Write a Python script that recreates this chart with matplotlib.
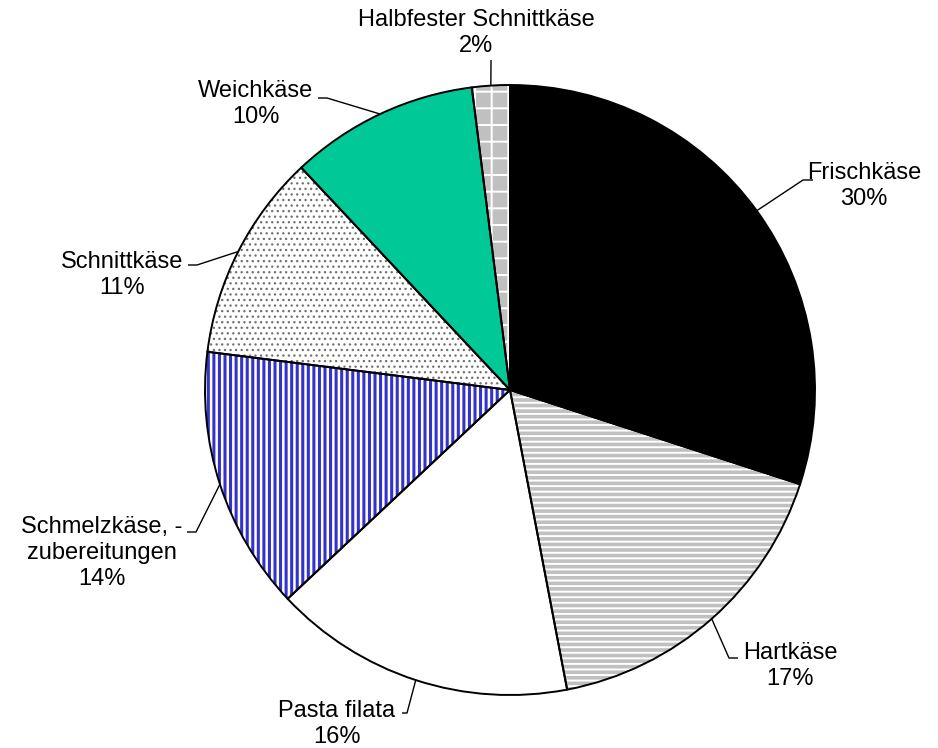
import numpy as np
import matplotlib.pyplot as plt

plt.rcParams['font.family'] = ['Liberation Sans', 'DejaVu Sans']

# Anteile der Käsesorten (%)
sorten = ["Frischkäse", "Hartkäse", "Pasta filata", "Schmelzkäse, -\nzubereitungen",
          "Schnittkäse", "Weichkäse", "Halbfester Schnittkäse"]
anteile = [30, 17, 16, 14, 11, 10, 2]

# Füllung: Grundfarbe, Schraffur, Farbe der Schraffur, Linienstärke
fuellung = [
    ("#000000", None, "#000000", 1.0),
    ("#c0c0c0", "---", "#ffffff", 1.4),
    ("#ffffff", None, "#ffffff", 1.0),
    ("#ffffff", "|||", "#3333cc", 2.2),
    ("#ffffff", "...", "#707070", 0.9),
    ("#00c896", None, "#00c896", 1.0),
    ("#c0c0c0", "+", "#ffffff", 1.4),
]

# Beschriftungen: Textmitte, Beginn der Führungslinie, Knick (Pixel, von oben)
text_pos = [(864, 186), (790, 666), (337, 724), (102, 553), (122, 275), (256, 104), (476, 33)]
linie_start = [(813, 180), (738, 658), (402, 713), (187, 532), (188, 265), (318, 98), (491, 60)]
linie_knick = [(803, 180), (729, 658), (407, 713), (196, 532), (197, 265), (327, 98), (491, 60)]

W, H = 938, 748
fig = plt.figure(figsize=(W / 100, H / 100), dpi=100)
ax = fig.add_axes([0, 0, 1, 1])

mitte = (510, H - 390)
radius = 305

wedges, _ = ax.pie(anteile, startangle=90, counterclock=False, center=mitte, radius=radius,
                   wedgeprops=dict(linewidth=0))
for w, (fc, hatch, hc, hlw) in zip(wedges, fuellung):
    w.set_facecolor(fc)
    w.set_edgecolor(hc)
    w.set_linewidth(0)
    if hatch:
        w.set_hatch(hatch)
        try:
            w.set_hatch_linewidth(hlw)
        except AttributeError:
            pass

# Umrisse separat zeichnen
umriss, _ = ax.pie(anteile, startangle=90, counterclock=False, center=mitte, radius=radius,
                   wedgeprops=dict(fill=False, edgecolor="black", linewidth=1.4))

for w, name, wert, tp, ls, lk in zip(wedges, sorten, anteile, text_pos, linie_start, linie_knick):
    ang = np.radians((w.theta1 + w.theta2) / 2)
    ex = mitte[0] + radius * np.cos(ang)
    ey = mitte[1] + radius * np.sin(ang)
    ax.plot([ls[0], lk[0], ex], [H - ls[1], H - lk[1], ey], color="black", linewidth=1.0,
            solid_capstyle="butt")
    ax.text(tp[0], H - tp[1], f"{name}\n{wert}%", ha="center", va="center",
            multialignment="center", fontsize=17, linespacing=1.25, color="black")

ax.set_xlim(0, W)
ax.set_ylim(0, H)
ax.set_aspect("equal")
ax.axis("off")

fig.savefig("out.png", dpi=100)
